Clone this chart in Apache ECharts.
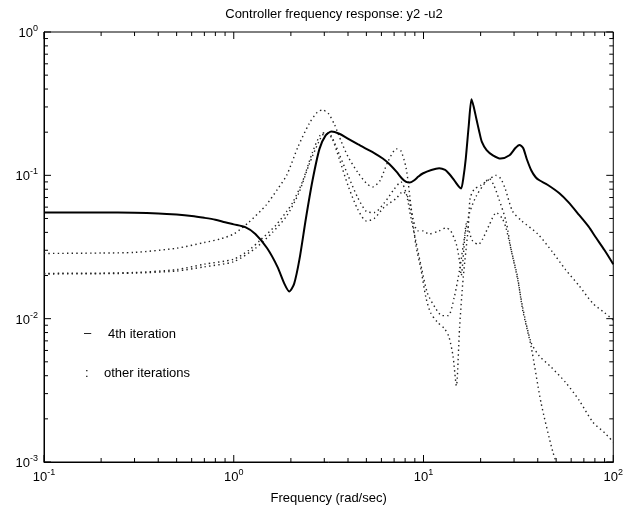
<!DOCTYPE html>
<html>
<head>
<meta charset="utf-8">
<script src="https://cdn.jsdelivr.net/npm/echarts@6/dist/echarts.min.js"></script>
<style>
  html, body { margin: 0; padding: 0; background: #fff; }
  #main { width: 626px; height: 510px; }
</style>
</head>
<body>
<div id="main"></div>
<script>
// frequency axis (rad/sec) and magnitude of each controller
var solidFreq = [0.1, 0.15, 0.2, 0.3, 0.4, 0.5, 0.6, 0.7, 0.8, 0.9, 1.0, 1.15, 1.3, 1.5, 1.7, 1.85, 1.96, 2.08, 2.22, 2.4, 2.6, 2.83, 3.05, 3.27, 3.6, 3.95, 4.5, 5.0, 5.5, 6.1, 6.6, 7.2, 7.7, 8.1, 8.45, 8.9, 9.4, 9.9, 11, 12.1, 13, 13.6, 14.3, 14.9, 15.4, 15.8, 16.2, 16.7, 17.3, 17.9, 18.4, 19, 19.7, 20.3, 21.5, 23.2, 25.5, 28.4, 30.5, 32, 33.5, 35, 37, 39, 41, 45, 52, 58, 66, 74, 81, 90, 100];
var solidMag = [0.055, 0.055, 0.055, 0.0548, 0.0542, 0.0532, 0.052, 0.0505, 0.049, 0.047, 0.0455, 0.0435, 0.039, 0.031, 0.023, 0.0175, 0.0155, 0.0175, 0.026, 0.05, 0.092, 0.153, 0.19, 0.202, 0.195, 0.182, 0.165, 0.153, 0.143, 0.131, 0.12, 0.106, 0.095, 0.09, 0.089, 0.092, 0.098, 0.103, 0.109, 0.112, 0.109, 0.103, 0.095, 0.088, 0.083, 0.081, 0.095, 0.131, 0.22, 0.34, 0.3, 0.247, 0.2, 0.171, 0.15, 0.138, 0.131, 0.138, 0.155, 0.163, 0.155, 0.13, 0.108, 0.097, 0.092, 0.086, 0.075, 0.065, 0.053, 0.044, 0.0368, 0.03, 0.024];

var iter1Freq = [0.1, 0.2, 0.3, 0.5, 0.7, 0.85, 1.0, 1.2, 1.48, 1.7, 1.9, 2.18, 2.5, 2.75, 2.93, 3.15, 3.4, 3.7, 4.0, 4.5, 5.0, 5.4, 5.9, 6.5, 7.2, 7.6, 8.1, 8.6, 9.1, 9.7, 10.3, 10.9, 11.8, 12.9, 13.6, 14.3, 14.9, 15.5, 16.2, 17.2, 17.6, 18.5, 20, 22, 24, 25.5, 27, 29.5, 33, 40, 48, 56, 66, 78, 90, 100];
var iter1Mag = [0.0285, 0.0287, 0.029, 0.031, 0.034, 0.036, 0.039, 0.047, 0.062, 0.08, 0.1, 0.158, 0.23, 0.275, 0.286, 0.27, 0.225, 0.17, 0.135, 0.105, 0.088, 0.083, 0.092, 0.125, 0.153, 0.148, 0.112, 0.06, 0.033, 0.022, 0.014, 0.011, 0.0095, 0.0085, 0.0075, 0.0055, 0.0034, 0.0088, 0.0195, 0.043, 0.069, 0.08, 0.085, 0.093, 0.1, 0.095, 0.08, 0.056, 0.048, 0.039, 0.029, 0.022, 0.017, 0.0128, 0.011, 0.0098];

var iter2Freq = [0.1, 0.2, 0.3, 0.5, 0.7, 1.0, 1.2, 1.37, 1.67, 1.9, 2.05, 2.3, 2.6, 2.85, 3.05, 3.3, 3.6, 4.0, 4.5, 5.0, 5.5, 6.2, 7.18, 7.77, 8.3, 8.8, 9.3, 9.9, 10.7, 12.1, 13.1, 13.9, 14.9, 15.5, 15.8, 16.3, 16.8, 17.2, 18.1, 19.5, 20.5, 22.2, 24.2, 26, 27.2, 29, 31.3, 33.3, 36.9, 41.6, 48, 53, 56];
var iter2Mag = [0.0207, 0.0208, 0.021, 0.022, 0.024, 0.026, 0.03, 0.035, 0.045, 0.056, 0.065, 0.09, 0.145, 0.19, 0.2, 0.18, 0.13, 0.085, 0.058, 0.048, 0.05, 0.06, 0.069, 0.077, 0.07, 0.05, 0.041, 0.041, 0.039, 0.041, 0.043, 0.041, 0.033, 0.025, 0.02, 0.03, 0.046, 0.043, 0.035, 0.033, 0.036, 0.045, 0.055, 0.05, 0.043, 0.03, 0.0195, 0.0115, 0.0064, 0.0026, 0.00118, 0.0008, 0.0006];

var iter3Freq = [0.1, 0.2, 0.3, 0.5, 0.7, 1.0, 1.3, 1.6, 1.9, 2.2, 2.5, 2.8, 3.0, 3.25, 3.6, 4.0, 4.5, 5.0, 5.5, 6.2, 7.0, 7.6, 8.1, 8.6, 9.1, 9.8, 10.5, 11.5, 12.5, 13.5, 14.5, 15.5, 16.5, 17.5, 19, 21, 22.2, 23.5, 25, 27.2, 29, 31.3, 33.3, 36.9, 40.7, 47, 56, 66, 78, 90, 100];
var iter3Mag = [0.0205, 0.0206, 0.0208, 0.0215, 0.023, 0.025, 0.031, 0.04, 0.052, 0.075, 0.12, 0.17, 0.195, 0.19, 0.14, 0.1, 0.07, 0.056, 0.055, 0.064, 0.08, 0.09, 0.075, 0.05, 0.035, 0.022, 0.015, 0.012, 0.0105, 0.0105, 0.014, 0.022, 0.038, 0.055, 0.072, 0.088, 0.095, 0.085, 0.068, 0.048, 0.03, 0.019, 0.012, 0.0068, 0.0055, 0.0046, 0.0036, 0.0027, 0.0019, 0.0016, 0.00138];

// tick positions
var xDecades = [0.1, 1, 10, 100];
var yDecades = [0.001, 0.01, 0.1, 1];
var xMinor = [0.2, 0.3, 0.4, 0.5, 0.6, 0.7, 0.8, 0.9, 2, 3, 4, 5, 6, 7, 8, 9, 20, 30, 40, 50, 60, 70, 80, 90];
var yMinor = [0.002, 0.003, 0.004, 0.005, 0.006, 0.007, 0.008, 0.009, 0.02, 0.03, 0.04, 0.05, 0.06, 0.07, 0.08, 0.09, 0.2, 0.3, 0.4, 0.5, 0.6, 0.7, 0.8, 0.9];

function zip(f, m) {
	return f.map(function (v, i) { return [v, m[i]]; });
}

var xMin = 0.1, xMax = 100, yMin = 0.001, yMax = 1;
var font = 'Liberation Sans, Arial, Helvetica, sans-serif';

function powLabel(v) {
	var e = Math.round(Math.log10(v));
	return '{b|10}{sup|' + e + '}';
}
var labelRich = {
	b: { fontSize: 13, fontFamily: font, color: '#000', verticalAlign: 'bottom' },
	sup: { fontSize: 9, fontFamily: font, color: '#000', verticalAlign: 'bottom', padding: [0, 0, 7, 0] }
};

// x ticks drawn on bottom and top edges
function xTickItem(params, api) {
	var v = api.value(0);
	var len = xDecades.indexOf(v) >= 0 ? 7 : 4;
	var b = api.coord([v, yMin]);
	var t = api.coord([v, yMax]);
	return { type: 'group', children: [
		{ type: 'line', shape: { x1: b[0], y1: b[1], x2: b[0], y2: b[1] - len }, style: { stroke: '#000', lineWidth: 1 } },
		{ type: 'line', shape: { x1: t[0], y1: t[1], x2: t[0], y2: t[1] + len }, style: { stroke: '#000', lineWidth: 1 } }
	] };
}
// y ticks drawn on left and right edges
function yTickItem(params, api) {
	var v = api.value(1);
	var len = yDecades.indexOf(v) >= 0 ? 7 : 4;
	var l = api.coord([xMin, v]);
	var r = api.coord([xMax, v]);
	return { type: 'group', children: [
		{ type: 'line', shape: { x1: l[0], y1: l[1], x2: l[0] + len, y2: l[1] }, style: { stroke: '#000', lineWidth: 1 } },
		{ type: 'line', shape: { x1: r[0], y1: r[1], x2: r[0] - len, y2: r[1] }, style: { stroke: '#000', lineWidth: 1 } }
	] };
}

var myChart = echarts.init(document.getElementById('main'));

var dotted = { color: '#222', width: 1.4, type: [1.4, 3.2] };

var option = {
	animation: false,
	backgroundColor: '#fff',
	title: {
		text: 'Controller frequency response: y2 -u2',
		left: 329,
		top: 3,
		textAlign: 'center',
		textStyle: { fontSize: 13, fontWeight: 'normal', color: '#000', fontFamily: font }
	},
	grid: {
		left: 44, right: 12, top: 32, bottom: 43,
		show: true, borderColor: '#000', borderWidth: 1
	},
	xAxis: {
		type: 'log', logBase: 10, min: xMin, max: xMax,
		name: 'Frequency (rad/sec)', nameLocation: 'middle', nameGap: 30,
		nameTextStyle: { fontSize: 13, color: '#000', fontFamily: font },
		axisLine: { show: true, lineStyle: { color: '#000', width: 1 } },
		axisTick: { show: false },
		splitLine: { show: false },
		axisLabel: { formatter: powLabel, rich: labelRich, margin: 6, showMaxLabel: true, showMinLabel: true }
	},
	yAxis: {
		type: 'log', logBase: 10, min: yMin, max: yMax,
		axisLine: { show: true, lineStyle: { color: '#000', width: 1 } },
		axisTick: { show: false },
		splitLine: { show: false },
		axisLabel: { formatter: powLabel, rich: labelRich, margin: 6, showMaxLabel: true, showMinLabel: true }
	},
	graphic: [
		{ type: 'text', left: 84, top: 327, style: { text: '\u2013', fontSize: 13, fontFamily: font, fill: '#000' } },
		{ type: 'text', left: 108, top: 328, style: { text: '4th iteration', fontSize: 13, fontFamily: font, fill: '#000' } },
		{ type: 'text', left: 85, top: 367, style: { text: ':', fontSize: 13, fontFamily: font, fill: '#000' } },
		{ type: 'text', left: 104, top: 367, style: { text: 'other iterations', fontSize: 13, fontFamily: font, fill: '#000' } }
	],
	series: [
		{ name: 'iteration 1', type: 'line', data: zip(iter1Freq, iter1Mag), showSymbol: false, smooth: 0.25, lineStyle: dotted },
		{ name: 'iteration 2', type: 'line', data: zip(iter2Freq, iter2Mag), showSymbol: false, smooth: 0.25, lineStyle: dotted },
		{ name: 'iteration 3', type: 'line', data: zip(iter3Freq, iter3Mag), showSymbol: false, smooth: 0.25, lineStyle: dotted },
		{ name: '4th iteration', type: 'line', data: zip(solidFreq, solidMag), showSymbol: false, smooth: 0.25, lineStyle: { color: '#000', width: 2 } },
		{ type: 'custom', silent: true, clip: false, renderItem: xTickItem,
			data: xDecades.concat(xMinor).map(function (v) { return [v, yMin]; }) },
		{ type: 'custom', silent: true, clip: false, renderItem: yTickItem,
			data: yDecades.concat(yMinor).map(function (v) { return [xMin, v]; }) }
	]
};

myChart.setOption(option);
</script>
</body>
</html>
